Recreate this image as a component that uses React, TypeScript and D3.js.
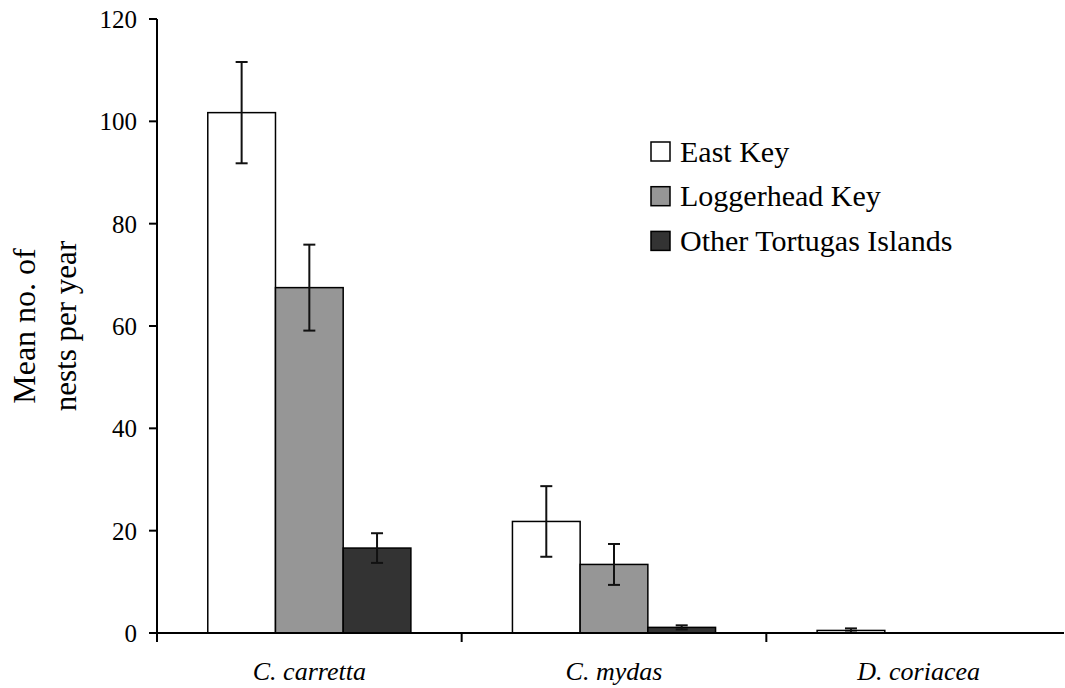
import React from "react";
import * as d3 from "d3";

const categories = ["C. carretta", "C. mydas", "D. coriacea"];
const seriesNames = ["East Key", "Loggerhead Key", "Other Tortugas Islands"];
const eastKey = [101.7, 21.8, 0.5];
const eastKeySE = [9.9, 6.9, 0.4];
const loggerheadKey = [67.5, 13.4, 0];
const loggerheadKeySE = [8.4, 4.0, 0];
const otherIslands = [16.6, 1.1, 0];
const otherIslandsSE = [2.9, 0.4, 0];
const yTicks = [0, 20, 40, 60, 80, 100, 120];
const seriesColors = ["#ffffff", "#969696", "#333333"];

const W = 1065;
const H = 688;
const FONT = "Liberation Serif, DejaVu Serif, serif";
const txt = { fontFamily: FONT };

export default function App() {
  const values = [eastKey, loggerheadKey, otherIslands];
  const errs = [eastKeySE, loggerheadKeySE, otherIslandsSE];

  const y = d3.scaleLinear().domain([0, 120]).range([633, 19]);
  const x0 = d3.scaleBand<string>().domain(categories).range([157, 1071]).padding(0);
  const x1 = d3
    .scaleBand<string>()
    .domain(seriesNames)
    .range([0, x0.bandwidth()])
    .paddingInner(0)
    .paddingOuter(0.75);

  const capW = 12;

  return (
    <svg
      width={W}
      height={H}
      style={{ position: "absolute", left: 0, top: 0, background: "#fff", fontFamily: FONT }}
    >
      {categories.map((c, ci) =>
        seriesNames.map((s, si) => {
          const v = values[si][ci];
          const bx = (x0(c) as number) + (x1(s) as number);
          const bw = x1.bandwidth();
          if (v <= 0) return null;
          return (
            <rect
              key={`b-${ci}-${si}`}
              x={bx}
              y={y(v)}
              width={bw}
              height={y(0) - y(v)}
              fill={seriesColors[si]}
              stroke="#000"
              strokeWidth={1.5}
            />
          );
        })
      )}
      {categories.map((c, ci) =>
        seriesNames.map((s, si) => {
          const v = values[si][ci];
          const e = errs[si][ci];
          const cx = (x0(c) as number) + (x1(s) as number) + x1.bandwidth() / 2;
          const yt = y(v + e);
          const yb = y(Math.max(0, v - e));
          const col = v <= 0 ? "#bbb" : "#111";
          return (
            <g key={`e-${ci}-${si}`} stroke={col} strokeWidth={2}>
              <line x1={cx} x2={cx} y1={yt} y2={yb} />
              <line x1={cx - capW / 2} x2={cx + capW / 2} y1={yt} y2={yt} />
              <line x1={cx - capW / 2} x2={cx + capW / 2} y1={yb} y2={yb} />
            </g>
          );
        })
      )}
      <line x1={157} x2={157} y1={y(120)} y2={y(0)} stroke="#000" strokeWidth={2} />
      {yTicks.map((t) => (
        <g key={`yt-${t}`}>
          <line x1={149} x2={157} y1={y(t)} y2={y(t)} stroke="#000" strokeWidth={2} />
          <text x={137} y={y(t) + 9} textAnchor="end" fontSize={25} fill="#000" style={txt}>
            {t}
          </text>
        </g>
      ))}
      <line x1={149} x2={1064} y1={y(0)} y2={y(0)} stroke="#000" strokeWidth={2} />
      {categories.map((c) => (
        <line
          key={`xt-${c}`}
          x1={x0(c) as number}
          x2={x0(c) as number}
          y1={y(0)}
          y2={y(0) + 9}
          stroke="#000"
          strokeWidth={2}
        />
      ))}
      {categories.map((c) => (
        <text
          key={`xl-${c}`}
          x={(x0(c) as number) + x0.bandwidth() / 2}
          y={680}
          textAnchor="middle"
          fontSize={26}
          fontStyle="italic"
          fill="#000"
          style={txt}
        >
          {c}
        </text>
      ))}
      <g transform={`translate(35, ${(y(0) + y(120)) / 2}) rotate(-90)`}>
        <text x={0} y={0} textAnchor="middle" fontSize={32} fill="#000" style={txt}>
          Mean no. of
        </text>
        <text x={0} y={41} textAnchor="middle" fontSize={31} fill="#000" style={txt}>
          nests per year
        </text>
      </g>
      {seriesNames.map((s, i) => (
        <g key={`lg-${s}`} transform={`translate(651, ${142 + i * 44.7})`}>
          <rect x={0} y={0} width={19} height={19} fill={seriesColors[i]} stroke="#000" strokeWidth={1.5} />
          <text x={29} y={19.5} fontSize={30} fill="#000" style={txt}>
            {s}
          </text>
        </g>
      ))}
    </svg>
  );
}
